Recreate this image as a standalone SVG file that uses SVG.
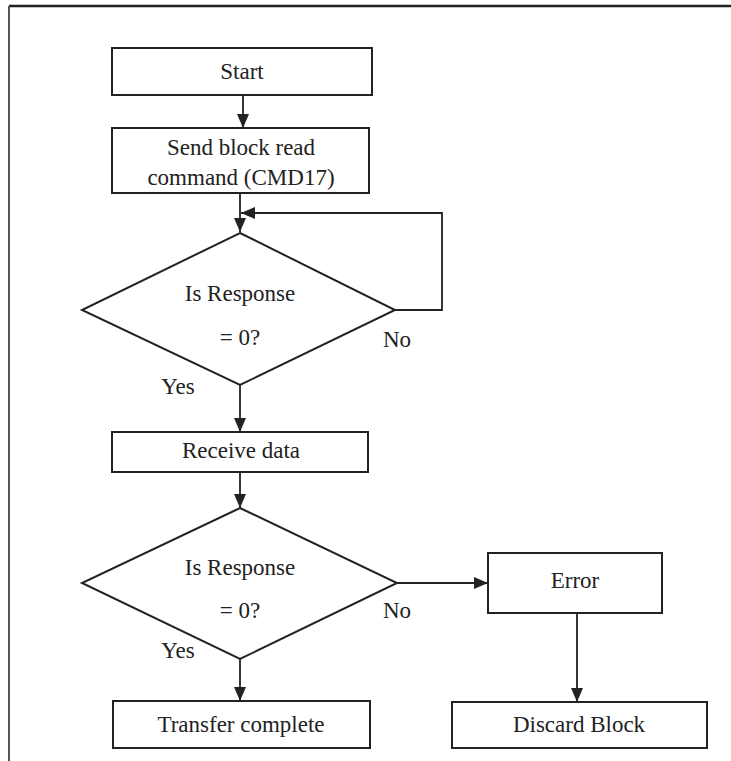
<svg xmlns="http://www.w3.org/2000/svg" width="731" height="761" viewBox="0 0 731 761">
<style>
.box{fill:#fff;stroke:#222;stroke-width:2}
.t{font-family:"Liberation Serif","Times New Roman",serif;font-size:23px;fill:#222;text-anchor:middle}
.c{fill:none;stroke:#222;stroke-width:1.8}
</style>
<defs>
<marker id="ah" markerWidth="14" markerHeight="12" refX="14" refY="6" orient="auto" markerUnits="userSpaceOnUse">
<path d="M0,0 L14,6 L0,12 Z" fill="#222"/>
</marker>
</defs>
<rect x="0" y="0" width="731" height="761" fill="#fff"/>
<g id="frame">
<line x1="9" y1="6" x2="731" y2="6" stroke="#222" stroke-width="2.5"/>
<line x1="9" y1="6" x2="9" y2="761" stroke="#555" stroke-width="2"/>
</g>
<g id="connectors">
<line class="c" x1="243" y1="95" x2="243" y2="128" marker-end="url(#ah)"/>
<line class="c" x1="240" y1="193" x2="240" y2="232" marker-end="url(#ah)"/>
<polyline class="c" points="395,310 442,310 442,213 241,213" marker-end="url(#ah)"/>
<line class="c" x1="240" y1="385" x2="240" y2="432" marker-end="url(#ah)"/>
<line class="c" x1="240" y1="472" x2="240" y2="508" marker-end="url(#ah)"/>
<line class="c" x1="397" y1="583" x2="488" y2="583" marker-end="url(#ah)"/>
<line class="c" x1="240" y1="659" x2="240" y2="701" marker-end="url(#ah)"/>
<line class="c" x1="577" y1="613" x2="577" y2="702" marker-end="url(#ah)"/>
</g>
<g id="start">
<rect class="box" x="112" y="48" width="260" height="47"/>
<text class="t" x="242" y="79">Start</text>
</g>
<g id="send">
<rect class="box" x="112" y="128" width="257" height="65"/>
<text class="t" x="241" y="155">Send block read</text>
<text class="t" x="241" y="185">command (CMD17)</text>
</g>
<g id="decision1">
<polygon class="box" points="240,233 395,310 240,385 82,310"/>
<text class="t" x="240" y="301">Is Response</text>
<text class="t" x="240" y="345">= 0?</text>
<text class="t" x="397" y="347">No</text>
<text class="t" x="178" y="394">Yes</text>
</g>
<g id="receive">
<rect class="box" x="112" y="432" width="256" height="40"/>
<text class="t" x="241" y="458">Receive data</text>
</g>
<g id="decision2">
<polygon class="box" points="240,508 397,583 240,659 82,583"/>
<text class="t" x="240" y="575">Is Response</text>
<text class="t" x="240" y="618">= 0?</text>
<text class="t" x="397" y="618">No</text>
<text class="t" x="178" y="658">Yes</text>
</g>
<g id="error">
<rect class="box" x="488" y="553" width="174" height="60"/>
<text class="t" x="575" y="588">Error</text>
</g>
<g id="transfer">
<rect class="box" x="113" y="701" width="257" height="47"/>
<text class="t" x="241" y="732">Transfer complete</text>
</g>
<g id="discard">
<rect class="box" x="452" y="702" width="255" height="46"/>
<text class="t" x="579" y="732">Discard Block</text>
</g>
</svg>
